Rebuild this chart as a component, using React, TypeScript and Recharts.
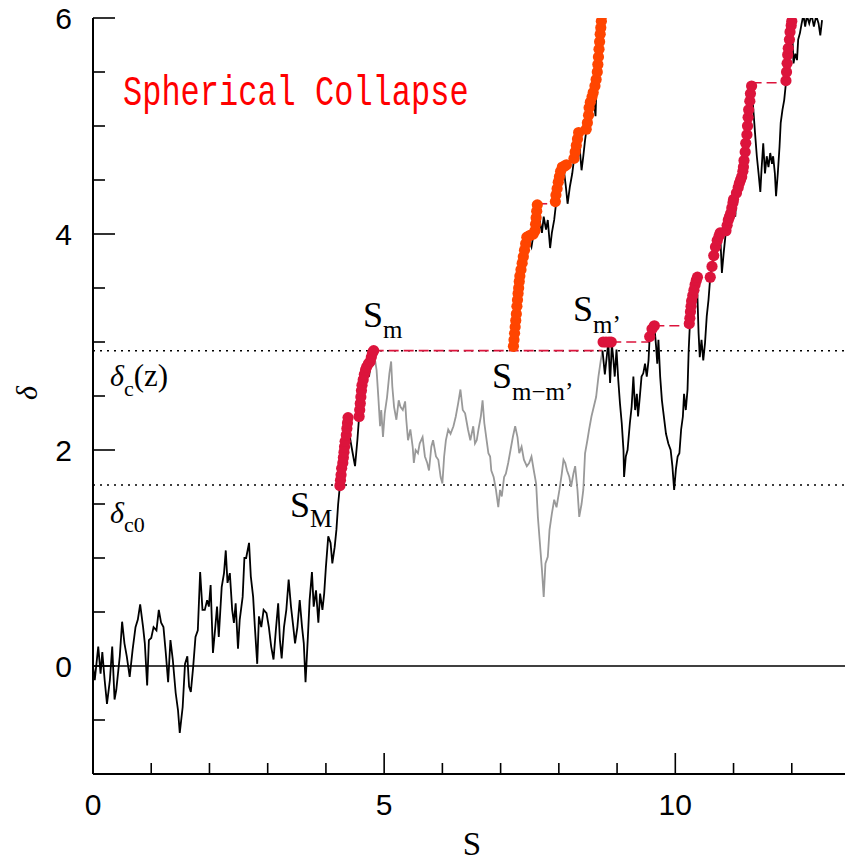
import { ComposedChart, Line, Scatter, XAxis, YAxis, ReferenceLine } from 'recharts'

type Pt = [number, number]

// walk up to S_m (black)
const walkBefore: Pt[] = [
  [0.0, 0.0], [0.03, -0.13], [0.09, 0.18], [0.13, -0.07], [0.16, 0.13], [0.2, -0.13], [0.24, -0.35],
  [0.29, -0.13], [0.33, 0.18], [0.37, -0.31], [0.4, -0.22], [0.46, 0.09], [0.5, 0.41], [0.54, 0.21],
  [0.58, 0.09], [0.63, -0.1], [0.68, 0.15], [0.73, 0.36], [0.77, 0.43], [0.81, 0.57], [0.86, 0.36],
  [0.89, 0.21], [0.93, -0.18], [0.96, 0.24], [1.0, 0.26], [1.04, 0.36], [1.09, 0.33], [1.13, 0.52],
  [1.17, 0.4], [1.21, 0.36], [1.25, 0.12], [1.29, -0.15], [1.33, 0.24], [1.37, 0.06], [1.42, -0.25],
  [1.46, -0.41], [1.49, -0.62], [1.54, -0.38], [1.58, 0.02], [1.62, 0.09], [1.65, -0.19], [1.68, -0.24],
  [1.72, -0.01], [1.76, 0.27], [1.8, 0.33], [1.84, 0.87], [1.88, 0.52], [1.92, 0.52], [1.96, 0.61],
  [1.99, 0.55], [2.02, 0.75], [2.06, 0.12], [2.1, 0.36], [2.13, 0.55], [2.16, 0.27], [2.21, 0.73],
  [2.25, 0.86], [2.28, 1.07], [2.31, 0.77], [2.35, 0.86], [2.39, 0.52], [2.42, 0.4], [2.45, 0.58],
  [2.49, 0.16], [2.52, 0.43], [2.57, 0.64], [2.6, 1.0], [2.63, 1.0], [2.68, 1.14], [2.71, 0.83],
  [2.75, 0.64], [2.78, 0.36], [2.82, 0.02], [2.85, 0.46], [2.89, 0.36], [2.93, 0.52], [2.98, 0.49],
  [3.02, 0.36], [3.06, 0.18], [3.1, 0.06], [3.14, 0.33], [3.18, 0.58], [3.21, 0.24], [3.24, 0.07],
  [3.28, 0.36], [3.32, 0.52], [3.36, 0.8], [3.4, 0.55], [3.44, 0.36], [3.47, 0.21], [3.51, 0.36],
  [3.55, 0.61], [3.59, 0.36], [3.62, 0.21], [3.65, -0.15], [3.69, 0.27], [3.72, 0.61], [3.76, 0.87],
  [3.79, 0.55], [3.83, 0.7], [3.87, 0.4], [3.9, 0.67], [3.94, 0.52], [3.97, 0.67], [4.0, 0.92],
  [4.04, 1.2], [4.08, 1.14], [4.11, 0.95], [4.15, 1.1], [4.18, 1.26], [4.21, 1.5], [4.24, 1.67],
  [4.27, 1.78], [4.3, 1.91], [4.32, 2.03], [4.35, 2.18], [4.38, 2.3], [4.42, 2.09], [4.47, 1.94],
  [4.5, 1.85], [4.54, 2.09], [4.57, 2.31], [4.59, 2.49], [4.63, 2.65], [4.67, 2.77], [4.71, 2.74],
  [4.74, 2.68], [4.77, 2.8], [4.82, 2.92],
]

// excursion below the barrier (grey)
const walkBelow: Pt[] = [
  [4.82, 2.92], [4.87, 2.74], [4.9, 2.49], [4.93, 2.22], [4.95, 2.37], [4.98, 2.12], [5.01, 2.34],
  [5.05, 2.49], [5.09, 2.71], [5.12, 2.82], [5.14, 2.59], [5.17, 2.4], [5.21, 2.28], [5.25, 2.46],
  [5.28, 2.4], [5.32, 2.37], [5.36, 2.45], [5.38, 2.28], [5.41, 2.09], [5.45, 2.19], [5.49, 2.03],
  [5.51, 1.88], [5.54, 2.0], [5.58, 1.97], [5.61, 2.06], [5.66, 2.12], [5.7, 1.94], [5.74, 1.88],
  [5.77, 1.81], [5.81, 2.03], [5.84, 2.09], [5.89, 1.94], [5.93, 1.91], [5.97, 1.75], [6.0, 1.69],
  [6.03, 1.94], [6.06, 2.09], [6.1, 2.19], [6.14, 2.15], [6.19, 2.22], [6.23, 2.31], [6.27, 2.43],
  [6.31, 2.56], [6.35, 2.37], [6.39, 2.34], [6.42, 2.25], [6.44, 2.19], [6.48, 2.09], [6.53, 2.22],
  [6.56, 2.06], [6.59, 2.09], [6.62, 2.19], [6.66, 2.31], [6.69, 2.46], [6.72, 2.25], [6.76, 2.09],
  [6.79, 1.97], [6.82, 1.94], [6.84, 1.81], [6.88, 1.75], [6.92, 1.63], [6.96, 1.47], [6.99, 1.63],
  [7.02, 1.57], [7.06, 1.75], [7.09, 1.78], [7.13, 1.88], [7.17, 2.0], [7.21, 2.12], [7.25, 2.22],
  [7.29, 2.12], [7.32, 1.97], [7.36, 2.03], [7.4, 1.91], [7.45, 1.85], [7.49, 1.88], [7.53, 1.94],
  [7.57, 1.81], [7.61, 1.69], [7.64, 1.38], [7.68, 1.1], [7.71, 0.89], [7.74, 0.64], [7.77, 0.95],
  [7.81, 1.01], [7.84, 1.26], [7.88, 1.41], [7.92, 1.54], [7.96, 1.47], [8.01, 1.63], [8.05, 1.78],
  [8.08, 1.91], [8.11, 1.88], [8.14, 1.81], [8.18, 1.75], [8.21, 1.66], [8.25, 1.78], [8.28, 1.85],
  [8.32, 1.63], [8.35, 1.38], [8.39, 1.5], [8.42, 1.63], [8.45, 1.97], [8.49, 2.09], [8.52, 2.19],
  [8.56, 2.31], [8.6, 2.4], [8.64, 2.49], [8.68, 2.68], [8.72, 2.83], [8.75, 2.92],
]

// walk after S_m' (black)
const walkAfter: Pt[] = [
  [8.75, 2.92], [8.79, 2.7], [8.82, 2.85], [8.85, 3.0], [8.88, 2.62], [8.91, 2.98], [8.93, 2.88],
  [8.96, 2.68], [8.99, 2.93], [9.02, 2.65], [9.05, 2.43], [9.08, 2.25], [9.11, 2.0], [9.12, 1.75],
  [9.15, 1.94], [9.18, 2.0], [9.22, 2.25], [9.25, 2.4], [9.28, 2.68], [9.31, 2.37], [9.34, 2.52],
  [9.36, 2.31], [9.39, 2.49], [9.42, 2.68], [9.45, 2.71], [9.48, 2.8], [9.51, 2.68], [9.54, 2.83],
  [9.56, 3.05], [9.6, 3.12], [9.64, 3.15], [9.67, 2.96], [9.69, 2.8], [9.71, 3.02], [9.74, 2.68],
  [9.77, 2.46], [9.79, 2.37], [9.84, 2.15], [9.88, 2.06], [9.92, 2.0], [9.95, 1.85], [9.98, 1.63],
  [10.01, 1.82], [10.04, 1.94], [10.07, 1.97], [10.1, 2.19], [10.13, 2.31], [10.15, 2.52],
  [10.18, 2.37], [10.21, 2.56], [10.23, 2.93], [10.25, 3.16], [10.31, 3.45], [10.37, 3.59],
  [10.4, 3.08], [10.42, 2.86], [10.45, 3.02], [10.48, 2.83], [10.51, 2.99], [10.54, 3.24],
  [10.57, 3.39], [10.6, 3.6], [10.66, 3.8], [10.72, 3.94], [10.77, 4.01], [10.8, 3.64], [10.83, 3.82],
  [10.87, 4.03], [10.91, 4.13], [10.95, 4.19], [11.0, 4.32], [11.03, 4.16], [11.05, 4.38],
  [11.1, 4.47], [11.14, 4.53], [11.17, 4.62], [11.2, 4.76], [11.23, 4.92], [11.25, 5.08],
  [11.28, 5.23], [11.31, 5.38], [11.34, 5.15], [11.37, 4.93], [11.4, 4.72], [11.43, 4.56],
  [11.46, 4.39], [11.48, 4.59], [11.51, 4.84], [11.54, 4.56], [11.57, 4.72], [11.6, 4.62],
  [11.63, 4.75], [11.66, 4.65], [11.68, 4.72], [11.71, 4.56], [11.73, 4.35], [11.76, 4.56],
  [11.79, 4.81], [11.81, 5.03], [11.84, 5.15], [11.87, 5.24], [11.9, 5.4], [11.93, 5.62],
  [11.97, 5.86], [12.0, 5.97], [12.03, 5.58], [12.06, 5.67], [12.09, 5.61], [12.11, 5.8],
  [12.14, 5.86], [12.17, 5.95], [12.2, 6.03], [12.23, 5.92], [12.26, 6.02], [12.3, 5.95],
  [12.34, 6.03], [12.38, 5.92], [12.42, 6.02], [12.46, 5.95], [12.49, 5.84], [12.52, 5.98],
]

// shifted walk starting at S_{m-m'}
const walkShifted: Pt[] = [
  [7.21, 2.92], [7.25, 3.14], [7.27, 3.33], [7.3, 3.48], [7.33, 3.6], [7.38, 3.73], [7.41, 3.82],
  [7.45, 3.98], [7.49, 3.94], [7.53, 3.88], [7.56, 3.98], [7.6, 4.05], [7.63, 4.28], [7.67, 4.13],
  [7.71, 4.01], [7.74, 4.16], [7.78, 4.04], [7.81, 4.13], [7.85, 3.87], [7.88, 4.01], [7.92, 4.13],
  [7.96, 4.32], [8.0, 4.44], [8.03, 4.56], [8.08, 4.62], [8.12, 4.44], [8.15, 4.28], [8.19, 4.44],
  [8.23, 4.56], [8.26, 4.69], [8.29, 4.81], [8.33, 4.93], [8.36, 4.78], [8.39, 4.59], [8.42, 4.72],
  [8.45, 4.87], [8.49, 5.03], [8.52, 5.2], [8.56, 5.18], [8.59, 5.3], [8.63, 5.09], [8.65, 5.43],
  [8.68, 5.64], [8.69, 5.77], [8.72, 5.89], [8.75, 5.98], [8.77, 6.04],
]

const redDots: Pt[] = [
  [4.24, 1.67], [4.25, 1.72], [4.26, 1.77], [4.27, 1.83], [4.29, 1.88], [4.3, 1.93], [4.31, 1.98],
  [4.32, 2.03], [4.33, 2.08], [4.35, 2.14], [4.36, 2.2], [4.37, 2.25], [4.38, 2.3],
  [4.57, 2.31], [4.58, 2.37], [4.59, 2.43], [4.6, 2.49], [4.61, 2.55], [4.62, 2.6], [4.64, 2.65],
  [4.66, 2.7], [4.68, 2.74], [4.7, 2.77], [4.73, 2.8], [4.76, 2.82], [4.78, 2.86], [4.8, 2.9],
  [4.82, 2.92],
  [8.76, 3.0], [8.81, 3.0], [8.86, 3.0], [8.9, 3.0],
  [9.56, 3.05], [9.6, 3.12], [9.64, 3.15],
  [10.24, 3.17], [10.25, 3.22], [10.26, 3.28], [10.27, 3.33], [10.28, 3.38], [10.3, 3.43],
  [10.32, 3.48], [10.34, 3.53], [10.36, 3.57], [10.38, 3.6],
  [10.6, 3.6], [10.63, 3.7], [10.66, 3.8], [10.69, 3.88], [10.72, 3.94], [10.75, 3.98], [10.77, 4.01],
  [10.87, 4.03], [10.89, 4.08], [10.91, 4.13], [10.93, 4.16], [10.95, 4.19], [10.97, 4.24],
  [10.99, 4.29], [11.0, 4.32],
  [11.05, 4.38], [11.08, 4.43], [11.1, 4.47], [11.12, 4.5], [11.14, 4.53], [11.16, 4.58],
  [11.17, 4.62], [11.18, 4.68], [11.2, 4.76], [11.21, 4.84], [11.23, 4.92], [11.24, 5.0],
  [11.25, 5.08], [11.26, 5.15], [11.28, 5.23], [11.29, 5.3], [11.31, 5.37],
  [11.9, 5.42], [11.91, 5.5], [11.92, 5.58], [11.93, 5.66], [11.94, 5.72], [11.96, 5.8],
  [11.97, 5.87], [11.99, 5.93], [12.0, 5.97],
]

const orangeDots: Pt[] = [
  [7.22, 2.96], [7.23, 3.02], [7.24, 3.08], [7.25, 3.14], [7.26, 3.2], [7.27, 3.26], [7.28, 3.33],
  [7.29, 3.39], [7.3, 3.45], [7.31, 3.5], [7.32, 3.56], [7.33, 3.61], [7.35, 3.67], [7.37, 3.73],
  [7.39, 3.79], [7.41, 3.85], [7.43, 3.91], [7.45, 3.97],
  [7.48, 3.98], [7.52, 3.99], [7.56, 4.0], [7.59, 4.03], [7.6, 4.09], [7.61, 4.15], [7.62, 4.21],
  [7.63, 4.27],
  [7.94, 4.3], [7.95, 4.36], [7.97, 4.42], [7.99, 4.48], [8.01, 4.53], [8.03, 4.58], [8.06, 4.62],
  [8.1, 4.63], [8.13, 4.64],
  [8.26, 4.7], [8.28, 4.76], [8.3, 4.82], [8.32, 4.88], [8.34, 4.94],
  [8.47, 4.97], [8.49, 5.03], [8.51, 5.1], [8.52, 5.17], [8.54, 5.22], [8.57, 5.27], [8.59, 5.31],
  [8.62, 5.37], [8.64, 5.43], [8.66, 5.5], [8.67, 5.57], [8.68, 5.64], [8.69, 5.71], [8.7, 5.78],
  [8.71, 5.85], [8.72, 5.91], [8.73, 5.97], [8.75, 6.03],
]

// horizontal dashed jumps: [S start, S end, delta]
const jumps: [number, number, number][] = [
  [4.82, 8.75, 2.92],
  [8.9, 9.56, 3.0],
  [9.64, 10.24, 3.15],
  [7.66, 7.8, 4.28],
  [11.31, 11.88, 5.4],
]

const DELTA_C0 = 1.675
const DELTA_CZ = 2.92

const xTicks = [0, 1, 2, 3, 4, 5, 6, 7, 8, 9, 10, 11, 12, 13]
const yTicks = [-1, -0.5, 0, 0.5, 1, 1.5, 2, 2.5, 3, 3.5, 4, 4.5, 5, 5.5, 6]

const RED = '#dc143c'
const ORANGE = '#ff4500'
const TICK_FONT = "'Liberation Sans', Arial, sans-serif"
const SERIF = "'Liberation Serif', 'Times New Roman', serif"

const toRows = (pts: Pt[]) => pts.map(([x, y]) => ({ x, y }))

const isMajorX = (v: number) => v % 5 === 0
const isMajorY = (v: number) => v % 2 === 0

function BottomTick(props: any) {
  const { x, y, payload } = props
  const v = payload.value
  const major = isMajorX(v)
  return (
    <g>
      <line x1={x} y1={y} x2={x} y2={y - (major ? 21 : 11)} stroke="#000" strokeWidth={1.6} />
      {major && (
        <text x={x} y={y + 41} textAnchor="middle" fontSize={30} fontFamily={TICK_FONT} fill="#000">
          {v}
        </text>
      )}
    </g>
  )
}

function TopTick(props: any) {
  const { x, y, payload } = props
  const major = isMajorX(payload.value)
  return <line x1={x} y1={y} x2={x} y2={y + (major ? 21 : 11)} stroke="#000" strokeWidth={1.6} />
}

function LeftTick(props: any) {
  const { x, y, payload } = props
  const v = payload.value
  const major = isMajorY(v)
  return (
    <g>
      <line x1={x} y1={y} x2={x + (major ? 22 : 12)} y2={y} stroke="#000" strokeWidth={1.6} />
      {major && (
        <text x={x - 21} y={y + 11} textAnchor="end" fontSize={30} fontFamily={TICK_FONT} fill="#000">
          {v}
        </text>
      )}
    </g>
  )
}

function RightTick(props: any) {
  const { x, y, payload } = props
  const major = isMajorY(payload.value)
  return <line x1={x} y1={y} x2={x - (major ? 22 : 12)} y2={y} stroke="#000" strokeWidth={1.6} />
}

const dot = (color: string) => (props: any) =>
  <circle cx={props.cx} cy={props.cy} r={5.6} fill={color} />

export default function App() {
  return (
    <div
      style={{
        position: 'fixed',
        left: 0,
        top: 0,
        width: 845,
        height: 861,
        overflow: 'hidden',
        background: '#fff',
      }}
    >
      <ComposedChart width={860} height={861} margin={{ top: 18, right: 10, bottom: 0, left: 0 }}>
        <XAxis
          type="number"
          dataKey="x"
          domain={[0, 13]}
          ticks={xTicks}
          interval={0}
          height={87}
          tickSize={0}
          tickMargin={0}
          allowDataOverflow
          axisLine={{ stroke: '#000', strokeWidth: 2 }}
          tick={BottomTick}
        />
        <XAxis
          xAxisId="top"
          orientation="top"
          type="number"
          domain={[0, 13]}
          ticks={xTicks}
          interval={0}
          height={0}
          tickSize={0}
          tickMargin={0}
          allowDataOverflow
          axisLine={{ stroke: '#000', strokeWidth: 2 }}
          tick={TopTick}
        />
        <YAxis
          type="number"
          dataKey="y"
          domain={[-1, 6]}
          ticks={yTicks}
          interval={0}
          width={93}
          tickSize={0}
          tickMargin={0}
          allowDataOverflow
          axisLine={{ stroke: '#000', strokeWidth: 2 }}
          tick={LeftTick}
        />
        <YAxis
          yAxisId="right"
          orientation="right"
          type="number"
          domain={[-1, 6]}
          ticks={yTicks}
          interval={0}
          width={0}
          tickSize={0}
          tickMargin={0}
          allowDataOverflow
          axisLine={{ stroke: '#000', strokeWidth: 2 }}
          tick={RightTick}
        />

        <ReferenceLine y={0} stroke="#000" strokeWidth={1.5} />
        <ReferenceLine y={DELTA_CZ} stroke="#000" strokeWidth={1.5} strokeDasharray="2 5" />
        <ReferenceLine y={DELTA_C0} stroke="#000" strokeWidth={1.5} strokeDasharray="2 5" />
        {jumps.map(([x1, x2, y], i) => (
          <ReferenceLine
            key={`jump-${i}`}
            segment={[{ x: x1, y }, { x: x2, y }]}
            stroke={RED}
            strokeWidth={1.6}
            strokeDasharray="10 5"
          />
        ))}

        <Line data={toRows(walkBelow)} dataKey="y" type="linear" stroke="#999" strokeWidth={1.8} dot={false} activeDot={false} isAnimationActive={false} />
        <Line data={toRows(walkBefore)} dataKey="y" type="linear" stroke="#000" strokeWidth={1.8} dot={false} activeDot={false} isAnimationActive={false} />
        <Line data={toRows(walkAfter)} dataKey="y" type="linear" stroke="#000" strokeWidth={1.8} dot={false} activeDot={false} isAnimationActive={false} />
        <Line data={toRows(walkShifted)} dataKey="y" type="linear" stroke="#000" strokeWidth={1.8} dot={false} activeDot={false} isAnimationActive={false} />

        <Scatter data={toRows(redDots)} fill={RED} shape={dot(RED)} isAnimationActive={false} />
        <Scatter data={toRows(orangeDots)} fill={ORANGE} shape={dot(ORANGE)} isAnimationActive={false} />
      </ComposedChart>

      <svg
        width={845}
        height={861}
        style={{ position: 'absolute', left: 0, top: 0, pointerEvents: 'none' }}
        fontFamily={SERIF}
        fill="#000"
      >
        <text
          transform="translate(123 105) scale(1 1.3)"
          fontFamily="'Liberation Mono', 'Courier New', monospace"
          fontSize={32}
          fill="#ff0000"
        >
          Spherical Collapse
        </text>

        <text x={110} y={386} fontSize={30}>
          <tspan fontStyle="italic">δ</tspan>
          <tspan dy={10} fontSize={22}>c</tspan>
          <tspan dy={-10} fontSize={31}>(z)</tspan>
        </text>
        <text x={110} y={523} fontSize={30}>
          <tspan fontStyle="italic">δ</tspan>
          <tspan dy={9} fontSize={22}>c0</tspan>
        </text>

        <text x={290} y={517} fontSize={36}>
          S<tspan dy={10} fontSize={25}>M</tspan>
        </text>
        <text x={363} y={327} fontSize={36}>
          S<tspan dy={11} fontSize={25}>m</tspan>
        </text>
        <text x={492} y={388} fontSize={36}>
          S<tspan dy={12} fontSize={25}>m−m’</tspan>
        </text>
        <text x={573} y={321} fontSize={36}>
          S<tspan dy={12} fontSize={25}>m’</tspan>
        </text>

        <text transform="translate(37 393) rotate(-90)" textAnchor="middle" fontSize={30} fontStyle="italic">
          δ
        </text>
        <text x={472} y={855} textAnchor="middle" fontSize={33}>
          S
        </text>
      </svg>
    </div>
  )
}
